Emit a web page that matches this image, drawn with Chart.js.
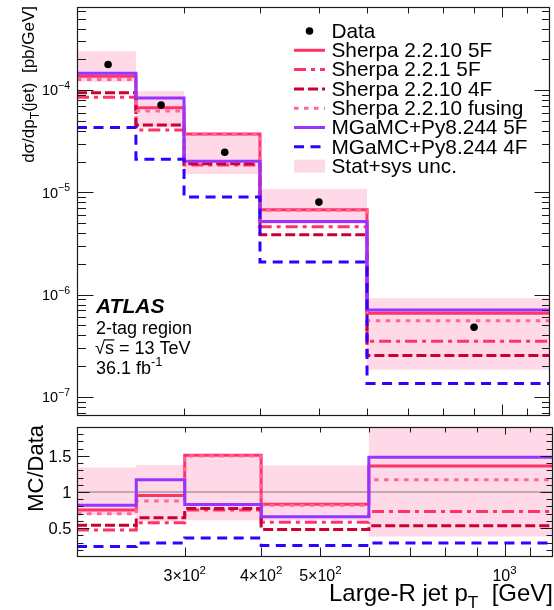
<!DOCTYPE html>
<html>
<head>
<meta charset="utf-8">
<title>Large-R jet pT, 2-tag region</title>
<script src="https://cdn.jsdelivr.net/npm/chart.js@4.4.1/dist/chart.umd.min.js"></script>
<style>
  html, body { margin: 0; padding: 0; background: #ffffff; }
  #wrap { position: relative; width: 554px; height: 610px; overflow: hidden; }
  #wrap canvas { position: absolute; left: 0; }
</style>
</head>
<body>
<div id="wrap">
  <canvas id="mainPanel" width="554" height="420" style="top:0px"></canvas>
  <canvas id="ratioPanel" width="554" height="190" style="top:420px"></canvas>
</div>
<script>
// ---------------------------------------------------------------------------
// Histogram binning in large-R jet pT [GeV]
const binEdges = [200, 250, 300, 400, 600, 1200];

// Unfolded data, dsigma/dpT [pb/GeV], plotted at the bin centres
const dataPt = [225, 275, 350, 500, 900];
const dataXsec = [1.78e-4, 7.14e-5, 2.47e-5, 8.03e-6, 4.79e-7];

// Stat+sys uncertainty band on the data
const uncUp   = [2.40e-4, 9.8e-5, 3.68e-5, 1.08e-5, 9.2e-7];
const uncDown = [1.21e-4, 4.3e-5, 1.51e-5, 4.9e-6, 1.84e-7];

// MC predictions, dsigma/dpT [pb/GeV]
const sherpa2210_5F     = [1.37e-4, 6.73e-5, 3.73e-5, 6.76e-6, 6.56e-7];
const sherpa221_5F      = [8.5e-5, 4.07e-5, 1.85e-5, 4.62e-6, 3.5e-7];
const sherpa2210_4F     = [9.4e-5, 4.56e-5, 1.91e-5, 3.86e-6, 2.54e-7];
const sherpa2210_fusing = [1.27e-4, 6.24e-5, 3.70e-5, 6.7e-6, 5.56e-7];
const mgamc_5F          = [1.46e-4, 8.36e-5, 2.02e-5, 5.2e-6, 7.06e-7];
const mgamc_4F          = [4.3e-5, 2.11e-5, 9.0e-6, 2.09e-6, 1.35e-7];

// MC/Data ratios
const ratioUncUp   = [1.34, 1.375, 1.49, 1.366, 1.92];
const ratioUncDown = [0.68, 0.60, 0.61, 0.61, 0.384];
const ratio_sherpa2210_5F     = [0.75, 0.95, 1.51, 0.83, 1.36];
const ratio_sherpa221_5F      = [0.475, 0.575, 0.75, 0.58, 0.73];
const ratio_sherpa2210_4F     = [0.54, 0.644, 0.772, 0.48, 0.534];
const ratio_sherpa2210_fusing = [0.70, 0.877, 1.50, 0.815, 1.17];
const ratio_mgamc_5F          = [0.818, 1.17, 0.827, 0.658, 1.48];
const ratio_mgamc_4F          = [0.247, 0.293, 0.362, 0.26, 0.293];

// Axis tick labels
const mainTickValues = [1e-7, 1e-6, 1e-5, 1e-4];
const mainTickExponents = ['\u22127', '\u22126', '\u22125', '\u22124'];
const ratioTickValues = [0.5, 1, 1.5];
const ratioTickLabels = ['0.5', '1', '1.5'];
const ptTickValues = [300, 400, 500, 1000];
const ptTickMantissa = ['3\u00d710', '4\u00d710', '5\u00d710', '10'];
const ptTickExponent = ['2', '2', '2', '3'];

// ---------------------------------------------------------------------------
const FONT = '"Liberation Sans", Arial, Helvetica, sans-serif';
const fnt = (size, style) => (style ? style + ' ' : '') + size + 'px ' + FONT;

const COL = {
  s2210_5F: '#ff3366',
  s221_5F: '#ff3366',
  s2210_4F: '#cc0033',
  fusing: '#ff6699',
  mg5F: '#9933ff',
  mg4F: '#3300ff',
  band: '#ffd9e8',
  unity: 'rgba(110,110,110,0.6)'
};
const DASH = {
  solid: [],
  dashdot: [12, 5, 4, 5],
  dashed: [10, 4],
  dotted: [4.5, 5.5],
  longdash: [10, 6.5]
};

// Outline points of a histogram: one point per lower bin edge plus the last upper edge
function histPoints(vals) {
  const pts = vals.map((v, i) => ({ x: binEdges[i], y: v }));
  pts.push({ x: binEdges[binEdges.length - 1], y: vals[vals.length - 1] });
  return pts;
}

function histLine(label, vals, color, dash, order) {
  return {
    label, data: histPoints(vals), stepped: 'before',
    borderColor: color, borderWidth: 3, borderDash: dash,
    borderCapStyle: 'butt', borderJoinStyle: 'miter',
    pointRadius: 0, pointHoverRadius: 0, fill: false, order, clip: 0,
    legendKind: 'line'
  };
}

function bandPair(up, down) {
  return [
    { label: 'Stat+sys unc.', data: histPoints(up), stepped: 'before',
      borderColor: 'rgba(0,0,0,0)', borderWidth: 0, pointRadius: 0,
      backgroundColor: COL.band, fill: '+1', order: 30, clip: 0, legendKind: 'box' },
    { label: '', data: histPoints(down), stepped: 'before',
      borderColor: 'rgba(0,0,0,0)', borderWidth: 0, pointRadius: 0,
      fill: false, order: 31, clip: 0, legendKind: null }
  ];
}

// Rich text: parts = [[text, mode]], mode 0 normal, 1 superscript, -1 subscript
function richWidth(ctx, parts, size, style) {
  let w = 0;
  for (const [t, m] of parts) {
    ctx.font = fnt(m ? size * 0.72 : size, style);
    w += ctx.measureText(t).width;
  }
  return w;
}
function drawRich(ctx, parts, x, y, size, align, style) {
  const w = richWidth(ctx, parts, size, style);
  let cx = align === 'right' ? x - w : align === 'center' ? x - w / 2 : x;
  ctx.textBaseline = 'alphabetic';
  ctx.textAlign = 'left';
  for (const [t, m] of parts) {
    const s = m ? size * 0.72 : size;
    ctx.font = fnt(s, style);
    const dy = m === 1 ? -size * 0.42 : m === -1 ? size * 0.3 : 0;
    ctx.fillText(t, cx, y + dy);
    cx += ctx.measureText(t).width;
  }
}

// Frame with inward ticks on all four sides (ROOT style)
const framePlugin = {
  id: 'rootFrame',
  afterDatasetsDraw(chart, args, opts) {
    const { ctx, chartArea: a, scales } = chart;
    const L = a.left + 0.5, R = a.right - 0.5, T = a.top + 0.5, B = a.bottom - 0.5;
    ctx.save();
    ctx.strokeStyle = '#1a1a1a';
    ctx.lineWidth = 1;
    ctx.setLineDash([]);
    ctx.beginPath();
    for (const t of opts.yTicks) {
      const p = Math.round(scales.y.getPixelForValue(t.v)) + 0.5;
      if (p < a.top || p > a.bottom) continue;
      ctx.moveTo(L, p); ctx.lineTo(L + t.l, p);
      ctx.moveTo(R, p); ctx.lineTo(R - t.r, p);
    }
    for (const t of opts.xTicks) {
      const p = Math.round(scales.x.getPixelForValue(t.v)) + 0.5;
      if (p <= a.left + 1 || p >= a.right - 1) continue;
      ctx.moveTo(p, B); ctx.lineTo(p, B - t.b);
      ctx.moveTo(p, T); ctx.lineTo(p, T + t.t);
    }
    ctx.stroke();
    ctx.lineWidth = 1.2;
    ctx.strokeRect(L, T, R - L, B - T);
    ctx.restore();
  }
};

// Minor and major tick marks of a log axis
function logTicks(min, max, majLen, minLen, majLenR, minLenR) {
  const out = [];
  for (let e = Math.floor(Math.log10(min)); e <= Math.ceil(Math.log10(max)); e++) {
    for (let k = 1; k <= 9; k++) {
      const v = k * Math.pow(10, e);
      if (v < min || v > max) continue;
      out.push({ v, l: k === 1 ? majLen : minLen, r: k === 1 ? majLenR : minLenR });
    }
  }
  return out;
}
function ptTicks(minLen, majLen, minLenTop, majLenTop) {
  const vals = [300, 400, 500, 600, 700, 800, 900, 1000, 1100];
  return vals.map(v => ({ v, b: v === 1000 ? majLen : minLen, t: v === 1000 ? majLenTop : minLenTop }));
}

// ---------------------------------------------------------------------------
// Upper panel: differential cross-section
const mainDatasets = [
  { label: 'Data', data: dataPt.map((x, i) => ({ x, y: dataXsec[i] })), showLine: false,
    pointRadius: 3.8, pointBackgroundColor: '#000', pointBorderWidth: 0, pointBorderColor: '#000',
    order: 0, clip: false, legendKind: 'marker' },
  histLine('Sherpa 2.2.10 5F', sherpa2210_5F, COL.s2210_5F, DASH.solid, 6),
  histLine('Sherpa 2.2.1 5F', sherpa221_5F, COL.s221_5F, DASH.dashdot, 5),
  histLine('Sherpa 2.2.10 4F', sherpa2210_4F, COL.s2210_4F, DASH.dashed, 4),
  histLine('Sherpa 2.2.10 fusing', sherpa2210_fusing, COL.fusing, DASH.dotted, 3),
  histLine('MGaMC+Py8.244 5F', mgamc_5F, COL.mg5F, DASH.solid, 2),
  histLine('MGaMC+Py8.244 4F', mgamc_4F, COL.mg4F, DASH.longdash, 1),
  ...bandPair(uncUp, uncDown)
];

const mainTextPlugin = {
  id: 'mainText',
  afterDraw(chart) {
    const { ctx, scales } = chart;
    ctx.save();
    ctx.fillStyle = '#000';
    // y tick labels
    mainTickValues.forEach((v, i) => {
      const py = scales.y.getPixelForValue(v);
      drawRich(ctx, [['10', 0], [mainTickExponents[i], 1]], 70, py + 5.2, 14.5, 'right');
    });
    // y title
    ctx.save();
    ctx.translate(34, 6);
    ctx.rotate(-Math.PI / 2);
    drawRich(ctx, [['d\u03c3/dp', 0], ['T', -1], ['(jet)  [pb/GeV]', 0]], 0, 0, 17, 'right');
    ctx.restore();

    // ATLAS label block
    ctx.font = fnt(21, 'italic bold');
    ctx.textAlign = 'left';
    ctx.textBaseline = 'alphabetic';
    ctx.fillText('ATLAS', 96, 313);
    ctx.font = fnt(18);
    ctx.fillText('2-tag region', 96, 333.5);
    // sqrt(s) with overbar
    const rootW = ctx.measureText('\u221a').width;
    ctx.fillText('\u221a', 95, 353.5);
    ctx.fillText('s = 13 TeV', 95 + rootW, 353.5);
    const sW = ctx.measureText('s').width;
    ctx.fillRect(95 + rootW - 1, 353.5 - 14.2, sW + 1.5, 1.2);
    drawRich(ctx, [['36.1 fb', 0], ['-1', 1]], 96, 373.5, 18, 'left');

    // legend
    const x0 = 294, x1 = 325, tx = 331.5;
    let row = 0;
    for (const ds of chart.data.datasets) {
      if (!ds.legendKind) continue;
      const y = 31 + 19.3 * row;
      if (ds.legendKind === 'marker') {
        ctx.beginPath();
        ctx.arc((x0 + x1) / 2, y, 3.8, 0, Math.PI * 2);
        ctx.fillStyle = '#000';
        ctx.fill();
      } else if (ds.legendKind === 'line') {
        ctx.beginPath();
        ctx.setLineDash(ds.borderDash);
        ctx.lineWidth = 3;
        ctx.lineCap = 'butt';
        ctx.strokeStyle = ds.borderColor;
        ctx.moveTo(x0, y); ctx.lineTo(x1, y);
        ctx.stroke();
        ctx.setLineDash([]);
      } else if (ds.legendKind === 'box') {
        ctx.fillStyle = ds.backgroundColor;
        ctx.fillRect(x0, y - 6.5, x1 - x0, 13);
      }
      ctx.fillStyle = '#000';
      ctx.font = fnt(20.8);
      ctx.fillText(ds.label, tx, y + 6.8);
      row++;
    }
    ctx.restore();
  }
};

new Chart(document.getElementById('mainPanel'), {
  type: 'line',
  data: { datasets: mainDatasets },
  options: {
    responsive: false, animation: false, events: [],
    layout: { padding: { left: 77, right: 1, top: 7, bottom: 3 } },
    scales: {
      x: { type: 'logarithmic', min: 200, max: 1200, display: false },
      y: { type: 'logarithmic', min: 6.5e-8, max: 6.5e-4, display: false }
    },
    plugins: {
      legend: { display: false }, tooltip: { enabled: false },
      rootFrame: {
        yTicks: logTicks(6.5e-8, 6.5e-4, 16, 8.5, 15, 7.5),
        xTicks: ptTicks(7, 11, 6, 10)
      }
    }
  },
  plugins: [framePlugin, mainTextPlugin]
});

// ---------------------------------------------------------------------------
// Lower panel: MC/Data
const ratioDatasets = [
  histLine('Sherpa 2.2.10 5F', ratio_sherpa2210_5F, COL.s2210_5F, DASH.solid, 6),
  histLine('Sherpa 2.2.1 5F', ratio_sherpa221_5F, COL.s221_5F, DASH.dashdot, 5),
  histLine('Sherpa 2.2.10 4F', ratio_sherpa2210_4F, COL.s2210_4F, DASH.dashed, 4),
  histLine('Sherpa 2.2.10 fusing', ratio_sherpa2210_fusing, COL.fusing, DASH.dotted, 3),
  histLine('MGaMC+Py8.244 5F', ratio_mgamc_5F, COL.mg5F, DASH.solid, 2),
  histLine('MGaMC+Py8.244 4F', ratio_mgamc_4F, COL.mg4F, DASH.longdash, 1),
  { label: 'unity', data: [{ x: binEdges[0], y: 1 }, { x: binEdges[binEdges.length - 1], y: 1 }],
    borderColor: COL.unity, borderWidth: 1.3, pointRadius: 0, fill: false, order: 20 },
  ...bandPair(ratioUncUp, ratioUncDown)
];

function ratioYTicks() {
  const out = [];
  for (let i = 2; i <= 18; i++) {
    const v = i / 10;
    const major = i % 5 === 0;
    out.push({ v, l: major ? 12 : 6, r: major ? 12 : 6 });
  }
  return out;
}

const ratioTextPlugin = {
  id: 'ratioText',
  afterDraw(chart) {
    const { ctx, scales } = chart;
    ctx.save();
    ctx.fillStyle = '#000';
    ctx.textBaseline = 'alphabetic';
    ratioTickValues.forEach((v, i) => {
      const py = scales.y.getPixelForValue(v);
      ctx.font = fnt(16.5);
      ctx.textAlign = 'right';
      ctx.fillText(ratioTickLabels[i], 71.5, py + 5.8);
    });
    ptTickValues.forEach((v, i) => {
      const px = scales.x.getPixelForValue(v);
      drawRich(ctx, [[ptTickMantissa[i], 0], [ptTickExponent[i], 1]], px, 161, 16, 'center');
    });
    // axis titles
    drawRich(ctx, [['Large-R jet p', 0], ['T', -1], ['  [GeV]', 0]], 553, 181, 24, 'right');
    ctx.save();
    ctx.translate(43, 5);
    ctx.rotate(-Math.PI / 2);
    drawRich(ctx, [['MC/Data', 0]], 0, 0, 22, 'right');
    ctx.restore();
    ctx.restore();
  }
};

new Chart(document.getElementById('ratioPanel'), {
  type: 'line',
  data: { datasets: ratioDatasets },
  options: {
    responsive: false, animation: false, events: [],
    layout: { padding: { left: 77, right: 1, top: 7, bottom: 53 } },
    scales: {
      x: { type: 'logarithmic', min: 200, max: 1200, display: false },
      y: { type: 'linear', min: 0.1, max: 1.9, display: false }
    },
    plugins: {
      legend: { display: false }, tooltip: { enabled: false },
      rootFrame: {
        yTicks: ratioYTicks(),
        xTicks: ptTicks(9, 13, 5, 7)
      }
    }
  },
  plugins: [framePlugin, ratioTextPlugin]
});
</script>
</body>
</html>
